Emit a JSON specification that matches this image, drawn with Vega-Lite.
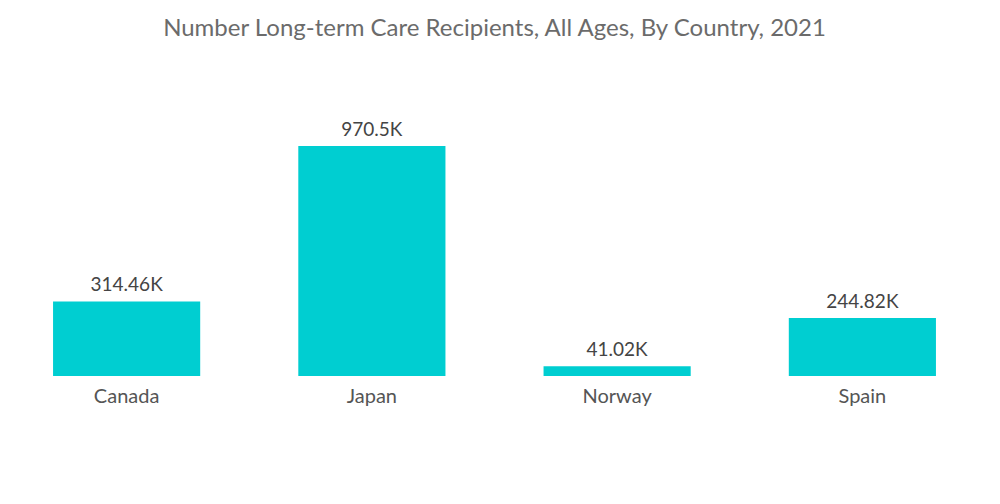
{
  "$schema": "https://vega.github.io/schema/vega-lite/v6.json",
  "autosize": "none",
  "width": 981,
  "height": 230,
  "padding": {"left": 4, "top": 146, "right": 15, "bottom": 128},
  "background": "white",
  "title": {
    "text": "Number Long-term Care Recipients, All Ages, By Country, 2021",
    "anchor": "middle",
    "font": "Lato",
    "fontSize": 24,
    "fontWeight": "normal",
    "color": "#6b6b6b",
    "offset": 80
  },
  "data": {
    "values": [
      {"country": "Canada", "value": 314.46, "label": "314.46K"},
      {"country": "Japan", "value": 970.5, "label": "970.5K"},
      {"country": "Norway", "value": 41.02, "label": "41.02K"},
      {"country": "Spain", "value": 244.82, "label": "244.82K"}
    ]
  },
  "encoding": {
    "x": {
      "field": "country",
      "type": "nominal",
      "sort": null,
      "scale": {"paddingInner": 0.4, "paddingOuter": 0.2},
      "axis": {
        "title": null,
        "domain": false,
        "ticks": false,
        "labelAngle": 0,
        "labelFont": "Lato",
        "labelFontSize": 20,
        "labelColor": "#555555",
        "labelPadding": 10
      }
    },
    "y": {
      "field": "value",
      "type": "quantitative",
      "scale": {"domain": [0, 970.5], "nice": false},
      "axis": null
    }
  },
  "layer": [
    {"mark": {"type": "bar", "color": "#00CED1"}},
    {
      "mark": {"type": "text", "baseline": "alphabetic", "dy": -10, "font": "Lato", "fontSize": 19, "color": "#444444"},
      "encoding": {"text": {"field": "label"}}
    }
  ],
  "config": {"view": {"stroke": null}}
}
